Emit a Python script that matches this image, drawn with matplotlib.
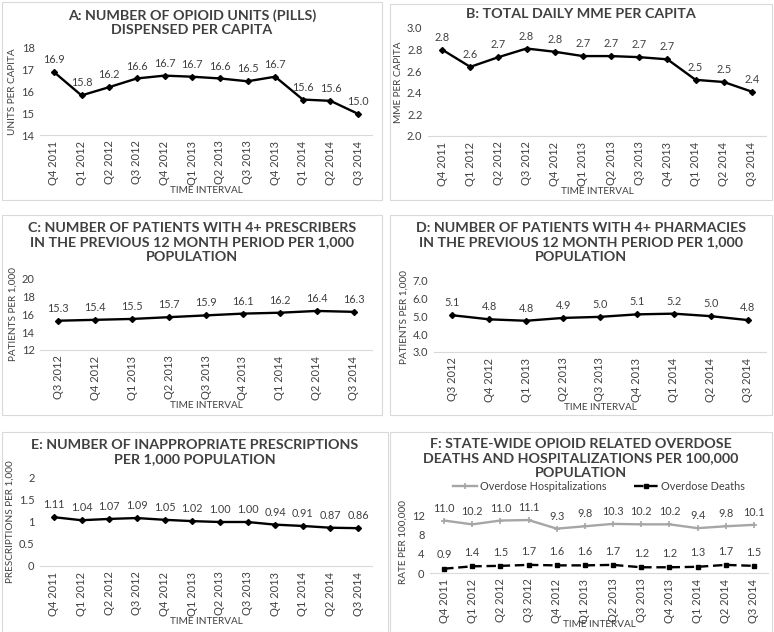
import matplotlib
matplotlib.use("Agg")
import matplotlib.pyplot as plt
from matplotlib.patches import Rectangle

plt.rcParams['font.family'] = ['Lato', 'DejaVu Sans']

W, H = 774, 632

q_12 = ["Q4 2011", "Q1 2012", "Q2 2012", "Q3 2012", "Q4 2012", "Q1 2013",
        "Q2 2013", "Q3 2013", "Q4 2013", "Q1 2014", "Q2 2014", "Q3 2014"]
q_9 = ["Q3 2012", "Q4 2012", "Q1 2013", "Q2 2013", "Q3 2013", "Q4 2013",
       "Q1 2014", "Q2 2014", "Q3 2014"]

units = [16.9, 15.82, 16.2, 16.6, 16.73, 16.68, 16.6, 16.47, 16.68, 15.63, 15.57, 14.97]
mme = [2.80, 2.64, 2.73, 2.81, 2.78, 2.74, 2.74, 2.73, 2.71, 2.52, 2.50, 2.41]
prescribers = [15.3, 15.4, 15.5, 15.7, 15.9, 16.1, 16.2, 16.4, 16.3]
pharmacies = [5.07, 4.84, 4.76, 4.92, 4.98, 5.12, 5.16, 5.02, 4.80]
inapprop = [1.11, 1.04, 1.07, 1.09, 1.05, 1.02, 1.00, 1.00, 0.94, 0.91, 0.87, 0.86]
hosp = [11.0, 10.2, 11.0, 11.1, 9.3, 9.8, 10.3, 10.2, 10.2, 9.4, 9.8, 10.1]
deaths = [0.9, 1.4, 1.5, 1.7, 1.6, 1.6, 1.7, 1.2, 1.2, 1.3, 1.7, 1.5]

TXT = '#404040'
TICK_FS = 8
LBL_FS = 7.8
AX_FS = 7.2
TITLE_FS = 10.3

fig = plt.figure(figsize=(W / 100, H / 100), dpi=100)
fig.patch.set_facecolor('white')


def box(x0, y0, x1, y1):
    fig.patches.append(Rectangle((x0 / W, 1 - y1 / H), (x1 - x0) / W, (y1 - y0) / H,
                                 transform=fig.transFigure, fill=False,
                                 edgecolor='#d9d9d9', lw=0.8))


def axes_px(x0, y0, x1, y1):
    return fig.add_axes([x0 / W, 1 - y1 / H, (x1 - x0) / W, (y1 - y0) / H])


def style_axes(ax, cats, ylim, yticks, ylabel, yfmt):
    ax.set_xlim(-0.5, len(cats) - 0.5)
    ax.set_ylim(*ylim)
    ax.set_yticks(yticks)
    ax.set_yticklabels([yfmt.format(t) for t in yticks])
    ax.set_xticks(range(len(cats)))
    ax.set_xticklabels(cats, rotation=90)
    ax.tick_params(length=0, labelsize=TICK_FS, colors=TXT, pad=4)
    for s in ['top', 'right', 'left']:
        ax.spines[s].set_visible(False)
    ax.spines['bottom'].set_color('#d9d9d9')
    ax.set_xlabel('TIME INTERVAL', fontsize=AX_FS, color=TXT, labelpad=1)
    ax.set_ylabel(ylabel, fontsize=AX_FS, color=TXT, labelpad=3)


def panel(bx, ax_px, title, title_y, cats, vals, ylim, yticks, ylabel, fmt, yfmt):
    box(*bx)
    ax = axes_px(*ax_px)
    x = range(len(cats))
    ax.plot(x, vals, color='black', lw=1.7, marker='D', ms=3)
    for i, v in zip(x, vals):
        ax.annotate(fmt.format(v), (i, v), xytext=(0, 5), textcoords='offset points',
                    ha='center', va='bottom', fontsize=LBL_FS, color=TXT)
    style_axes(ax, cats, ylim, yticks, ylabel, yfmt)
    fig.text((bx[0] + bx[2]) / 2 / W, 1 - title_y / H, title, ha='center', va='top',
             fontsize=TITLE_FS, fontweight='bold', color=TXT, linespacing=1.25)
    return ax


panel((2, 2, 382, 200), (40, 48, 372, 135),
      "A: NUMBER OF OPIOID UNITS (PILLS)\nDISPENSED PER CAPITA", 9,
      q_12, units, (14, 18), [14, 15, 16, 17, 18], 'UNITS PER CAPITA', '{:.1f}', '{:.0f}')

panel((390, 4, 772, 200), (428, 28, 766, 136),
      "B: TOTAL DAILY MME PER CAPITA", 8,
      q_12, mme, (2.0, 3.0), [2.0, 2.2, 2.4, 2.6, 2.8, 3.0], 'MME PER CAPITA', '{:.1f}', '{:.1f}')

panel((2, 215, 382, 415), (40, 279, 372, 350),
      "C: NUMBER OF PATIENTS WITH 4+ PRESCRIBERS\nIN THE PREVIOUS 12 MONTH PERIOD PER 1,000\nPOPULATION", 222,
      q_9, prescribers, (12, 20), [12, 14, 16, 18, 20], 'PATIENTS PER 1,000', '{:.1f}', '{:.0f}')

panel((390, 215, 772, 415), (434, 281, 766, 352),
      "D: NUMBER OF PATIENTS WITH 4+ PHARMACIES\nIN THE PREVIOUS 12 MONTH PERIOD PER 1,000\nPOPULATION", 222,
      q_9, pharmacies, (3.0, 7.0), [3.0, 4.0, 5.0, 6.0, 7.0], 'PATIENTS PER 1,000', '{:.1f}', '{:.1f}')

panel((2, 432, 388, 632), (40, 478, 372, 566),
      "E: NUMBER OF INAPPROPRIATE PRESCRIPTIONS\nPER 1,000 POPULATION", 439,
      q_12, inapprop, (0, 2), [0, 0.5, 1, 1.5, 2], 'PRESCRIPTIONS PER 1,000', '{:.2f}', '{:g}')

# panel F: two series
box(390, 432, 772, 632)
axf = axes_px(430, 511, 768, 573)
xf = range(len(q_12))
axf.plot(xf, hosp, color='#a6a6a6', lw=1.7, marker='+', ms=4, mew=1.2,
         label='Overdose Hospitalizations')
axf.plot(xf, deaths, color='black', lw=1.7, ls=(0, (4, 2)), marker='s', ms=3.5,
         label='Overdose Deaths')
for i in xf:
    axf.annotate('{:.1f}'.format(hosp[i]), (i, hosp[i]), xytext=(0, 5), textcoords='offset points',
                 ha='center', va='bottom', fontsize=LBL_FS, color=TXT)
    axf.annotate('{:.1f}'.format(deaths[i]), (i, deaths[i]), xytext=(0, 6), textcoords='offset points',
                 ha='center', va='bottom', fontsize=LBL_FS, color=TXT)
style_axes(axf, q_12, (0, 13), [0, 4, 8, 12], 'RATE PER 100,000', '{:.0f}')
axf.xaxis.labelpad = -2
axf.legend(loc='lower center', bbox_to_anchor=(0.5, 1.0), ncol=2, frameon=False,
           fontsize=LBL_FS, labelcolor=TXT, handlelength=2.2, handletextpad=0.3,
           columnspacing=2.5, borderaxespad=1.4)
fig.text(581 / W, 1 - 438 / H,
         "F: STATE-WIDE OPIOID RELATED OVERDOSE\nDEATHS AND HOSPITALIZATIONS PER 100,000\nPOPULATION",
         ha='center', va='top', fontsize=TITLE_FS, fontweight='bold', color=TXT, linespacing=1.25)

fig.savefig('out.png', dpi=100, facecolor='white')
